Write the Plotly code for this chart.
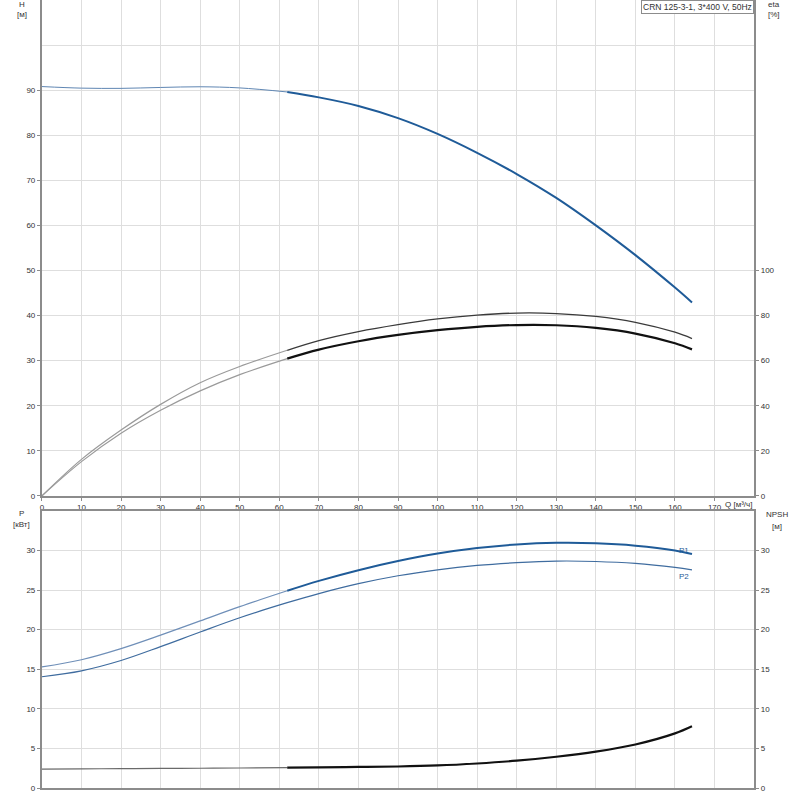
import plotly.graph_objects as go

# ---------------- data ----------------
q = [0, 10, 20, 30, 40, 50, 62, 70, 80, 90, 100, 110, 120, 130, 140, 150, 160, 164.3]
head = [90.8, 90.45, 90.4, 90.6, 90.75, 90.5, 89.6, 88.4, 86.5, 83.8, 80.3, 76.1, 71.4, 66.1, 60.0, 53.4, 46.2, 42.9]
eta_upper = [0, 16.2, 29.2, 40.6, 50.2, 57.4, 64.6, 68.9, 72.9, 76.0, 78.5, 80.2, 81.1, 80.9, 79.6, 77.0, 72.6, 69.8]
eta_lower = [0, 15.2, 27.8, 38.0, 46.6, 53.8, 60.9, 64.9, 68.6, 71.4, 73.5, 75.0, 75.8, 75.7, 74.5, 72.0, 67.7, 65.0]
p1 = [15.3, 16.2, 17.6, 19.3, 21.1, 22.9, 24.9, 26.15, 27.5, 28.65, 29.6, 30.3, 30.75, 30.95, 30.9, 30.6, 30.0, 29.55]
p2 = [14.05, 14.8, 16.1, 17.85, 19.7, 21.5, 23.4, 24.55, 25.8, 26.8, 27.55, 28.1, 28.45, 28.65, 28.6, 28.35, 27.85, 27.55]
npsh = [2.4, 2.42, 2.45, 2.48, 2.5, 2.53, 2.58, 2.62, 2.66, 2.72, 2.85, 3.1, 3.45, 3.95, 4.6, 5.5, 6.9, 7.8]
split = 6  # index of Q = 62 (start of the duty range)

x_ticks = list(range(0, 180, 10))
h_ticks = list(range(0, 100, 10))
eta_ticks = list(range(0, 120, 20))
p_ticks = list(range(0, 35, 5))

title_text = "CRN 125-3-1, 3*400 V, 50Hz"

FONT = "Liberation Sans, Arial, sans-serif"
FS = 8
BLUE = "#1f5b98"
GRID = "#dedede"
AXC = "#8c8c8c"

fig = go.Figure()


def seg(xs, ys, xa, ya, color, width):
    fig.add_trace(go.Scatter(x=xs, y=ys, xaxis=xa, yaxis=ya, mode="lines",
                             line=dict(color=color, width=width, shape="spline", smoothing=1.0),
                             hoverinfo="skip", showlegend=False))


# H curve
seg(q[:split + 1], head[:split + 1], "x", "y", "#5f86b3", 1)
seg(q[split:], head[split:], "x", "y", BLUE, 2)
# eta curves
seg(q[:split + 1], eta_upper[:split + 1], "x", "y2", "#9a9a9a", 1.2)
seg(q[split:], eta_upper[split:], "x", "y2", "#3a3a3a", 1.3)
seg(q[:split + 1], eta_lower[:split + 1], "x", "y2", "#9a9a9a", 1.2)
seg(q[split:], eta_lower[split:], "x", "y2", "#111111", 2.2)
# power curves
seg(q[:split + 1], p1[:split + 1], "x2", "y3", "#6f8fb8", 1.2)
seg(q[split:], p1[split:], "x2", "y3", BLUE, 2)
seg(q, p2, "x2", "y3", "#3f6c9f", 1.2)
# NPSH
seg(q[:split + 1], npsh[:split + 1], "x2", "y4", "#6a6a6a", 1.2)
seg(q[split:], npsh[split:], "x2", "y4", "#111111", 2.2)

tickfont = dict(family=FONT, size=FS, color="#333333")
xdom = [40 / 800, 754 / 800]
common = dict(showline=True, linecolor=AXC, linewidth=2, zeroline=False,
              tickfont=tickfont, ticks="outside", ticklen=3, tickcolor=AXC)

fig.update_layout(
    width=800, height=800,
    margin=dict(l=0, r=0, t=0, b=0),
    paper_bgcolor="white", plot_bgcolor="white",
    font=dict(family=FONT, size=FS, color="#333333"),
    xaxis=dict(domain=xdom, range=[0, 180], anchor="y", tickvals=x_ticks,
               showgrid=True, gridcolor=GRID, gridwidth=1, **common),
    yaxis=dict(domain=[1 - 499 / 800, 1], range=[0, 110], anchor="x", tickvals=h_ticks,
               showgrid=True, gridcolor=GRID, gridwidth=1,
               minor=dict(tickvals=[100, 110], showgrid=True, gridcolor=GRID, gridwidth=1),
               **common),
    yaxis2=dict(range=[0, 220], overlaying="y", side="right", anchor="x", tickvals=eta_ticks,
                showgrid=False, **common),
    xaxis2=dict(domain=xdom, range=[0, 180], anchor="y3", tickvals=x_ticks + [180],
                showticklabels=False, showgrid=True, gridcolor=GRID, gridwidth=1,
                showline=True, linecolor=AXC, linewidth=2, mirror=True, zeroline=False, ticks=""),
    yaxis3=dict(domain=[7 / 800, 1 - 514 / 800], range=[0, 35], anchor="x2", tickvals=p_ticks,
                showgrid=True, gridcolor=GRID, gridwidth=1, **common),
    yaxis4=dict(range=[0, 35], overlaying="y3", side="right", anchor="x2", tickvals=p_ticks,
                showgrid=False, **common),
)


def px(x):
    return x / 800


def py(y):
    return 1 - y / 800


def label(text, x, y, xanchor="center", color="#333333", **kw):
    fig.add_annotation(text=text, xref="paper", yref="paper", x=px(x), y=py(y),
                       xanchor=xanchor, yanchor="middle", showarrow=False,
                       font=dict(family=FONT, size=FS, color=color), **kw)


label("H", 20, 5)
label("[м]", 20, 15)
label("eta", 774, 5)
label("[%]", 774, 15)
label("P", 20, 517)
label("[кВт]", 20, 528)
label("NPSH", 777, 518)
label("[м]", 777, 530)
label("Q [м³/ч]", 723, 508, xanchor="left")

fig.add_annotation(text=title_text, xref="paper", yref="paper", x=px(754), y=1,
                   xanchor="right", yanchor="top", showarrow=False,
                   font=dict(family=FONT, size=8.5, color="#333333"),
                   bgcolor="white", bordercolor="#8c8c8c", borderwidth=1, borderpad=1)

fig.add_annotation(text="P1", xref="x2", yref="y3", x=162.3, y=p1[-1] + 0.4,
                   showarrow=False, font=dict(family=FONT, size=FS, color=BLUE))
fig.add_annotation(text="P2", xref="x2", yref="y3", x=162.3, y=p2[-1] - 0.85,
                   showarrow=False, font=dict(family=FONT, size=FS, color=BLUE))

fig.write_html("out.html")
